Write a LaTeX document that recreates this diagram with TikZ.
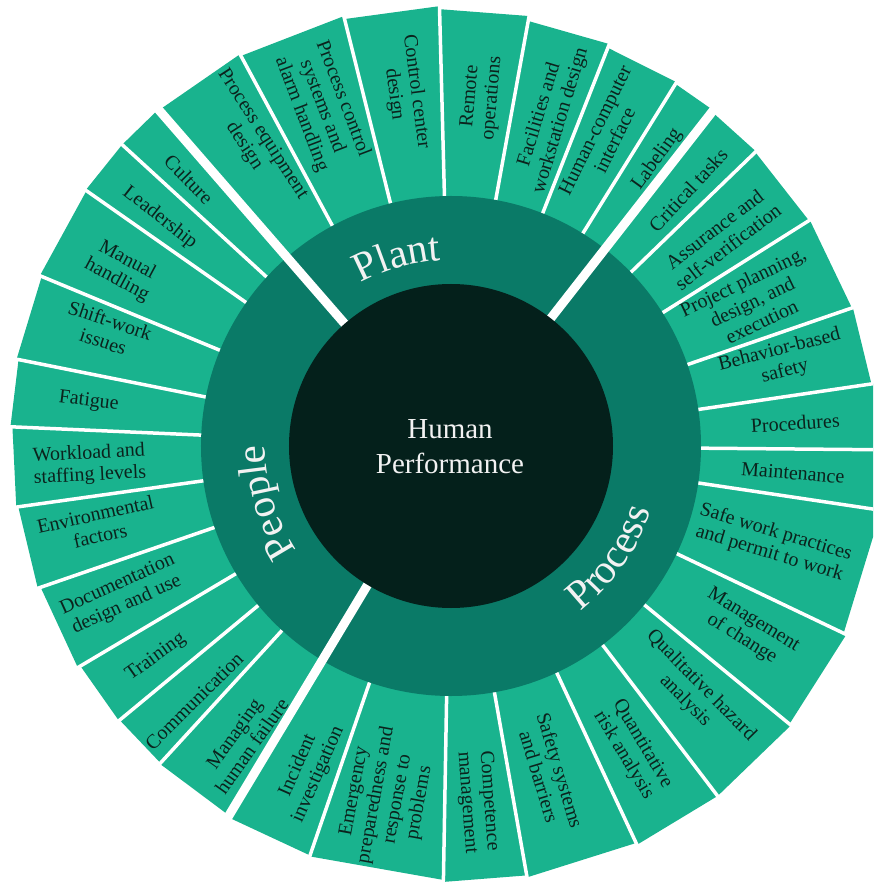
\documentclass[tikz,border=0pt]{standalone}
\usepackage{fontspec}
\setmainfont{Liberation Serif}
\usetikzlibrary{decorations.text}
\definecolor{outerg}{HTML}{19B38E}
\definecolor{midg}{HTML}{0A7A67}
\definecolor{coreg}{HTML}{04201B}
\definecolor{segtxt}{HTML}{0B231D}
\definecolor{ringtxt}{HTML}{F2F2F2}
\newcommand\ringfont{\color{ringtxt}\fontsize{41}{41}\selectfont}
\begin{document}
\begin{tikzpicture}[x=1pt,y=1pt,
  seg/.style={text=segtxt, font=\fontsize{20}{22}\selectfont, align=center, inner sep=0pt},
  thinsep/.style={draw=white, line width=3.5pt},
  thicksep/.style={draw=white, line width=9pt},
  ringlabel/.style={decorate, decoration={text along path, text align=center}}]
\useasboundingbox (-451,-437) rectangle (422,446);
\clip (-451,-437) rectangle (422,446);
% outer wedges
\foreach \a/\b/\r in {-121/-109/433, -109/-91/434, -91/-80/436, -80/-65/438, -65/-52.7/440, -52.7/-39.4/440, -39.4/-25.5/438, -25.5/-8.5/435, -8.5/-0.5/432, -0.5/8.4/428, 8.4/19/425, 19/32.2/424, 32.2/44/423, 44/52/424, 52/58.2/426, 58.2/68.5/428, 68.5/79.7/432, 79.7/91.5/437, 91.5/104/440, 104/118.3/443, 118.3/131/445, 131/137.5/446, 137.5/145/446, 145/157.5/445, 157.5/168.7/443, 168.7/177.5/441, 177.5/188/439, 188/199/437, 199/210.7/434, 210.7/219.6/431, 219.6/227.5/430, 227.5/239/431}
  \fill[outerg] (0,0) -- (\a:\r) -- (\b:\r) -- cycle;
% thin separators
\foreach \a in {-109, -91, -80, -65, -52.7, -39.4, -25.5, -8.5, -0.5, 8.4, 19, 32.2, 44, 58.2, 68.5, 79.7, 91.5, 104, 118.3, 137.5, 145, 157.5, 168.7, 177.5, 188, 199, 210.7, 219.6, 227.5}
  \draw[thinsep] (\a:240) -- (\a:470);
% middle ring
\fill[midg] (0,0) circle[radius=250];
% thick separators
\foreach \a in {-121, 52, 131}
  \draw[thicksep] (\a:120) -- (\a:470);
% core
\node[circle, fill=coreg, minimum size=324pt, inner sep=0pt] (core) at (0,0) {};
\node[font=\fontsize{29}{35}\selectfont, text=ringtxt, align=center] (hp) at (-1,-1) {Human\\Performance};
% ring labels
\path[ringlabel, decoration={text={|\ringfont|Plant}}] (146:186) arc[start angle=146, end angle=66, radius=186];
\path[ringlabel, decoration={text={|\ringfont|People}}] (237:186) arc[start angle=237, end angle=157, radius=186];
\path[ringlabel, decoration={text={|\ringfont|Process}}] (-75:210) arc[start angle=-75, end angle=5, radius=210];
% People labels
\node[seg, rotate=-45.5] (culture) at (134.5:374) {Culture};
\node[seg, rotate=-38.1] (leadership) at (141.9:370) {Leadership};
\node[seg, rotate=-28.1] (manual) at (151.9:373) {Manual\\handling};
\node[seg, rotate=-18.5] (shift) at (161.5:363) {Shift-work\\issues};
\node[seg, rotate=-7] (fatigue) at (173:365) {Fatigue};
\node[seg, rotate=3] (workload) at (183:362) {Workload and\\staffing levels};
\node[seg, rotate=12.6] (environ) at (192.6:362) {Environmental\\factors};
\node[seg, rotate=24.4] (document) at (204.4:361) {Documentation\\design and use};
\node[seg, rotate=35.6] (training) at (215.6:363) {Training};
\node[seg, rotate=44.8] (communic) at (224.8:362) {Communication};
\node[seg, rotate=54.7] (managing) at (234.7:360) {Managing\\human failure};
% Process labels
\node[seg, rotate=66.2] (incident) at (246.2:354) {Incident\\investigation};
\node[seg, rotate=79.7] (emergency) at (259.7:357) {Emergency\\preparedness and\\response to\\problems};
\node[seg, rotate=-85.7] (competence) at (-85.7:357) {Competence\\management};
\node[seg, rotate=-73.2] (safetysys) at (-73.2:342) {Safety systems\\and barriers};
\node[seg, rotate=-59.1] (quant) at (-59.1:354) {Quantitative\\risk analysis};
\node[seg, rotate=-45.6] (qual) at (-45.6:346) {Qualitative hazard\\analysis};
\node[seg, rotate=-31.8] (moc) at (-31.8:349) {Management\\of change};
\node[seg, rotate=-16.8] (safework) at (-16.8:336) {Safe work practices\\and permit to work};
\node[seg, rotate=-4.5] (maint) at (-4.5:343) {Maintenance};
\node[seg, rotate=3.8] (proc) at (3.8:345) {Procedures};
\node[seg, rotate=14.4] (behavior) at (14.4:342) {Behavior-based\\safety};
\node[seg, rotate=25.6] (project) at (25.6:334) {Project planning,\\design, and\\execution};
\node[seg, rotate=37.6] (assurance) at (37.6:341) {Assurance and\\self-verification};
\node[seg, rotate=47.2] (critical) at (47.2:349) {Critical tasks};
% Plant labels
\node[seg, rotate=54.3] (labeling) at (54.3:353) {Labeling};
\node[seg, rotate=63.7] (hci) at (63.7:347) {Human-computer\\interface};
\node[seg, rotate=73.2] (facilities) at (73.2:343) {Facilities and\\workstation design};
\node[seg, rotate=85] (remote) at (85:350) {Remote\\operations};
\node[seg, rotate=-82.6] (control) at (97.4:356) {Control center\\design};
\node[seg, rotate=-69.2] (pcs) at (110.8:363) {Process control\\systems and\\alarm handling};
\node[seg, rotate=-57.1] (peq) at (122.9:364) {Process equipment\\design};
\end{tikzpicture}
\end{document}
